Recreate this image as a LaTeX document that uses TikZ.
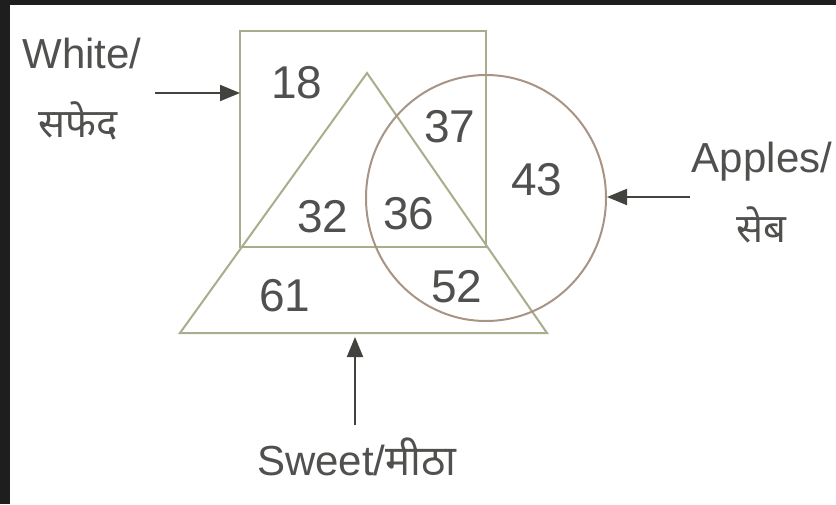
\documentclass[tikz,border=0pt]{standalone}
\usepackage{fontspec}
\setmainfont{Liberation Sans}
\newfontfamily\deva[Script=Devanagari]{Noto Sans}
\usetikzlibrary{arrows.meta}
\definecolor{frame}{RGB}{30,30,30}
\definecolor{boxc}{RGB}{168,174,140}
\definecolor{circc}{RGB}{168,148,134}
\definecolor{txt}{RGB}{80,80,78}
\definecolor{arr}{RGB}{66,66,62}
\tikzset{
  num/.style={text=txt, font=\fontsize{46}{46}\selectfont, inner sep=0pt},
  lab/.style={text=txt, font=\fontsize{42}{42}\selectfont, inner sep=0pt},
  dlab/.style={text=txt, font=\deva\bfseries\fontsize{40}{40}\selectfont, inner sep=0pt},
  shapeline/.style={draw=boxc, line width=2pt},
  pointer/.style={draw=arr, line width=2pt, -{Triangle[length=20pt,width=16pt]}},
}
\begin{document}
\begin{tikzpicture}[x=1pt,y=-1pt]
\useasboundingbox (0,0) rectangle (836,504);
\fill[white] (0,0) rectangle (836,504);
\fill[frame] (0,0) rectangle (836,5);
\fill[frame] (0,0) rectangle (10,504);
% shapes
\draw[shapeline] (240,31) rectangle (486,247);
\draw[shapeline] (367,73) -- (547,333) -- (180,333) -- cycle;
\draw[draw=circc, line width=2pt] (486,198) ellipse [x radius=120, y radius=123];
% coordinates for connectors
\coordinate (wtail) at (155,93);
\coordinate (wtip) at (240,93);
\coordinate (atail) at (690,197);
\coordinate (atip) at (607,197);
\coordinate (stail) at (355,425);
\coordinate (stip) at (355,337);
\draw[pointer] (wtail) -- (wtip);
\draw[pointer] (atail) -- (atip);
\draw[pointer] (stail) -- (stip);
% numbers
\node[num] (n18) at (297,83) {18};
\node[num] (n37) at (450,127) {37};
\node[num] (n43) at (537,180) {43};
\node[num] (n32) at (323,217) {32};
\node[num] (n36) at (409,214) {36};
\node[num] (n61) at (285,296) {61};
\node[num] (n52) at (457,287) {52};
% labels
\node[lab] (white) at (82,53) {White/};
\node[dlab] (safed) at (78,121) {सफेद};
\node[lab] (apples) at (762,162) {Apples/};
\node[dlab] (seb) at (761,225) {सेब};
\node[lab, anchor=base] (sweet) at (357,475) {Sweet/{\deva\bfseries मीठा}};
\end{tikzpicture}
\end{document}
